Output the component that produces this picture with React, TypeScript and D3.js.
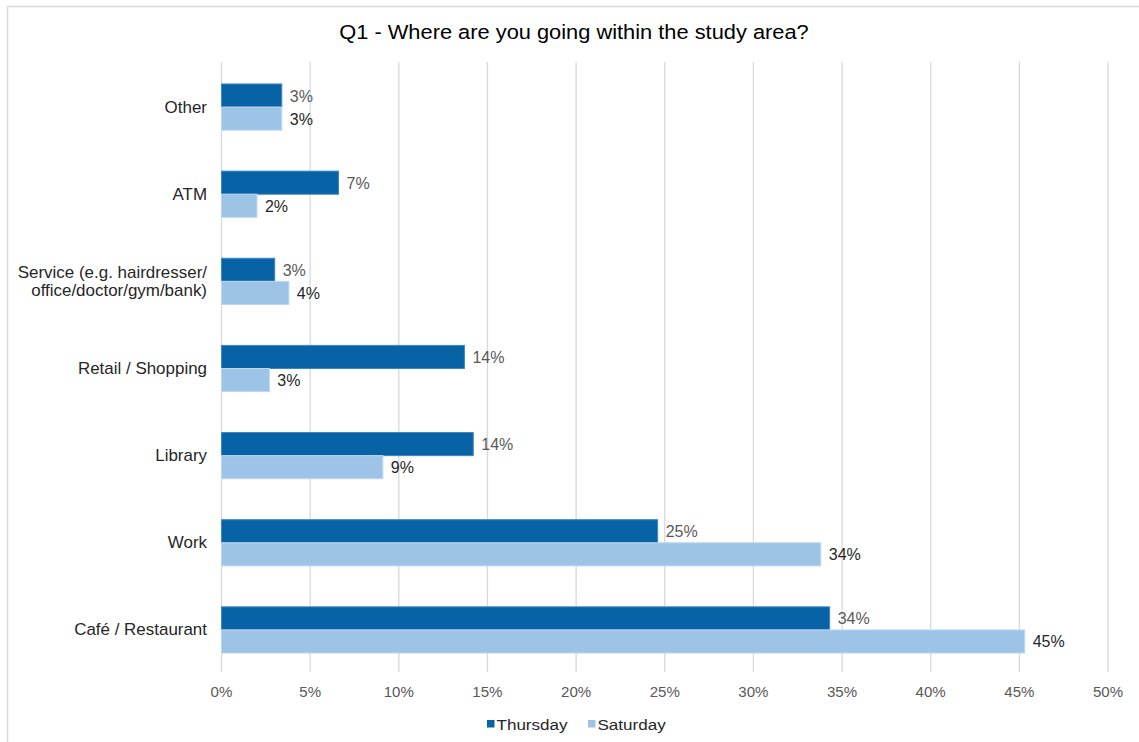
import React from "react";
import * as d3 from "d3";

const categories = [
  "Other",
  "ATM",
  "Service (e.g. hairdresser/\noffice/doctor/gym/bank)",
  "Retail / Shopping",
  "Library",
  "Work",
  "Café / Restaurant",
];
const thursday = [3.4, 6.6, 3.0, 13.7, 14.2, 24.6, 34.3];
const saturday = [3.4, 2.0, 3.8, 2.7, 9.1, 33.8, 45.3];
const thursdayLabels = ["3%", "7%", "3%", "14%", "14%", "25%", "34%"];
const saturdayLabels = ["3%", "2%", "4%", "3%", "9%", "34%", "45%"];
const ticks = [0, 5, 10, 15, 20, 25, 30, 35, 40, 45, 50];
const seriesNames = ["Thursday", "Saturday"];
const colors = ["#0862A6", "#9DC3E6"];
const strokes = ["#3F86C4", "#BDD7EE"];
const labelColors = ["#595959", "#262626"];

const W = 1139;
const H = 742;
const M = { left: 221.5, right: 1108, top: 62, bottom: 672 };

function T({
  x,
  y,
  sx = 1,
  size,
  anchor = "start",
  fill = "#262626",
  children,
}: {
  x: number;
  y: number;
  sx?: number;
  size: number;
  anchor?: string;
  fill?: string;
  children: React.ReactNode;
}) {
  return (
    <text
      transform={`translate(${x},${y}) scale(${sx},1)`}
      textAnchor={anchor}
      fontSize={size}
      fill={fill}
    >
      {children}
    </text>
  );
}

export default function App() {
  const x = d3.scaleLinear().domain([0, 50]).range([M.left, M.right]);
  const y = d3
    .scaleBand<number>()
    .domain(categories.map((_, i) => i))
    .range([M.top + 1.5, M.bottom + 1.5])
    .paddingInner(0.47)
    .paddingOuter(0.235);
  const sub = d3
    .scaleBand<number>()
    .domain([0, 1])
    .range([0, y.bandwidth()]);
  const font = "'Liberation Sans', Arial, sans-serif";
  const series = [thursday, saturday];
  const labels = [thursdayLabels, saturdayLabels];

  return (
    <div style={{ position: "fixed", left: 0, top: 0 }}>
      <svg width={W} height={H} style={{ display: "block" }} fontFamily={font}>
        <rect x={0} y={0} width={W} height={H} fill="#fff" />
        <rect x={7.5} y={6.5} width={W + 10} height={H + 10} fill="#fff" stroke="#D9D9D9" strokeWidth={1.5} />
        <T x={574} y={38.5} size={19.5} sx={1.12} anchor="middle" fill="#000">
          Q1 - Where are you going within the study area?
        </T>
        {ticks.map((t) => (
          <g key={t}>
            <line x1={x(t)} x2={x(t)} y1={M.top} y2={M.bottom} stroke="#D9D9D9" strokeWidth={1.3} />
            <T x={x(t)} y={697} size={14.5} sx={1.04} anchor="middle" fill="#595959">
              {t}%
            </T>
          </g>
        ))}
        {categories.map((c, i) => {
          const lines = c.split("\n");
          const cy = (y(i) as number) + y.bandwidth() / 2;
          return (
            <g key={c}>
              {lines.map((l, j) => (
                <T
                  key={j}
                  x={207}
                  y={cy + 5.5 + (j - (lines.length - 1) / 2) * 18.5}
                  size={16}
                  sx={1.06}
                  anchor="end"
                  fill="#262626"
                >
                  {l}
                </T>
              ))}
            </g>
          );
        })}
        {series.map((vals, s) =>
          vals.map((v, i) => {
            const by = (y(i) as number) + (sub(s) as number);
            return (
              <g key={`${s}-${i}`}>
                <rect
                  x={x(0)}
                  y={by}
                  width={x(v) - x(0)}
                  height={sub.bandwidth()}
                  fill={colors[s]}
                  stroke={strokes[s]}
                  strokeWidth={1}
                />
                <T
                  x={x(v) + 8}
                  y={by + sub.bandwidth() / 2 + 6}
                  size={16}
                  fill={labelColors[s]}
                >
                  {labels[s][i]}
                </T>
              </g>
            );
          })
        )}
        {seriesNames.map((n, s) => {
          const lx = [487, 588][s];
          return (
            <g key={n}>
              <rect x={lx} y={720} width={7.5} height={7.5} fill={colors[s]} />
              <T x={lx + 9.5} y={729.5} size={15.5} sx={1.1} fill="#262626">
                {n}
              </T>
            </g>
          );
        })}
      </svg>
    </div>
  );
}
